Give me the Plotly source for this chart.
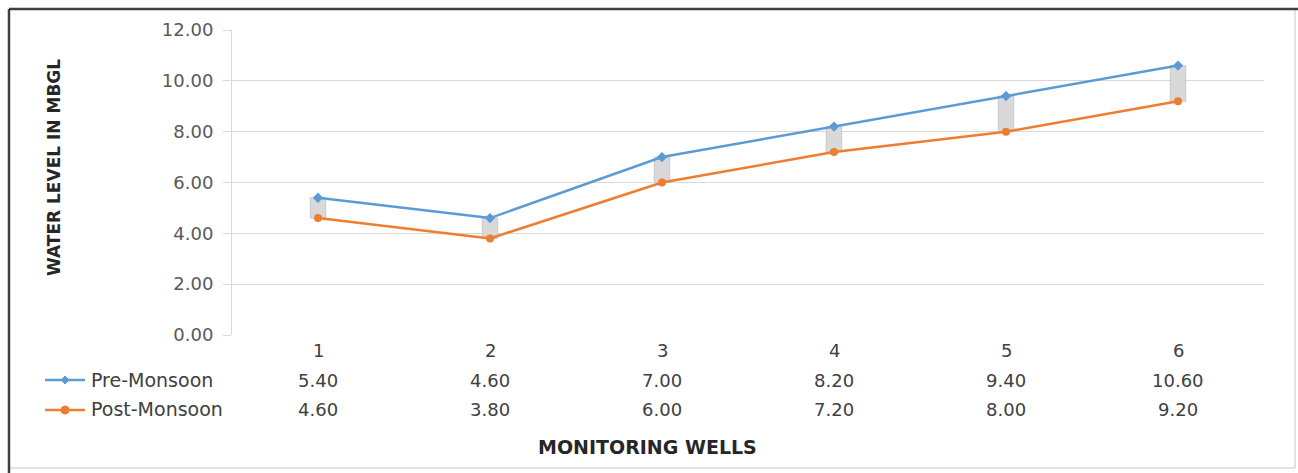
import plotly.graph_objects as go

# Monitoring-well water levels (metres below ground level)
wells = [1, 2, 3, 4, 5, 6]
pre_monsoon = [5.40, 4.60, 7.00, 8.20, 9.40, 10.60]
post_monsoon = [4.60, 3.80, 6.00, 7.20, 8.00, 9.20]
y_ticks = [0, 2, 4, 6, 8, 10, 12]

W, H = 1298, 473
BLUE = "#5b9bd5"
ORANGE = "#ed7d31"
TXT = "#404040"
FONT = "DejaVu Sans"

# plot-area pixel box
px0, px1 = 232, 1264
py_top, py_bot = 30, 335


def fy(y):
    """pixel row -> paper fraction"""
    return 1 - y / H


def fx(x):
    return x / W


fig = go.Figure()

# up-down bars between the two series
fig.add_trace(go.Bar(
    x=wells, base=post_monsoon,
    y=[a - b for a, b in zip(pre_monsoon, post_monsoon)],
    width=0.09, marker=dict(color="#d9d9d9", line=dict(color="#c8c8c8", width=1)),
    showlegend=False, hoverinfo="skip",
))
fig.add_trace(go.Scatter(
    x=wells, y=pre_monsoon, mode="lines+markers", name="Pre-Monsoon",
    line=dict(color=BLUE, width=2.5),
    marker=dict(symbol="diamond", size=8, color=BLUE), showlegend=False,
))
fig.add_trace(go.Scatter(
    x=wells, y=post_monsoon, mode="lines+markers", name="Post-Monsoon",
    line=dict(color=ORANGE, width=2.5),
    marker=dict(symbol="circle", size=8, color=ORANGE), showlegend=False,
))

annotations = []
nfont = dict(size=18, color=TXT, family=FONT)
lfont = dict(size=19, color=TXT, family=FONT)
# data table rows
for i, w in enumerate(wells):
    for yrow, txt in [(350, str(w)), (380, f"{pre_monsoon[i]:.2f}"), (409, f"{post_monsoon[i]:.2f}")]:
        annotations.append(dict(x=w, y=fy(yrow), xref="x", yref="paper", text=txt,
                                xanchor="center", yanchor="middle", showarrow=False, font=nfont))
for yk, label in [(380, "Pre-Monsoon"), (409, "Post-Monsoon")]:
    annotations.append(dict(x=fx(89), y=fy(yk), xref="paper", yref="paper", text=label,
                            xanchor="left", yanchor="middle", showarrow=False, font=lfont))
# axis titles
annotations.append(dict(x=fx(647), y=fy(447), xref="paper", yref="paper",
                        text="<b>MONITORING WELLS</b>", xanchor="center", yanchor="middle",
                        showarrow=False, font=dict(size=19, color="#262626", family=FONT)))
annotations.append(dict(x=fx(54), y=fy(168), xref="paper", yref="paper",
                        text="<b>WATER LEVEL IN MBGL</b>", textangle=-90, xanchor="center",
                        yanchor="middle", showarrow=False,
                        font=dict(size=17, color="#262626", family=FONT)))

shapes = [
    dict(type="rect", xref="paper", yref="paper", x0=fx(9), x1=fx(1295), y0=fy(468), y1=fy(9),
         line=dict(color="#c8c8c8", width=1)),
    dict(type="line", xref="paper", yref="paper", x0=fx(9), x1=1, y0=fy(9), y1=fy(9),
         line=dict(color="#404040", width=2.5)),
    dict(type="line", xref="paper", yref="paper", x0=fx(9), x1=fx(9), y0=0, y1=fy(9),
         line=dict(color="#404040", width=2.5)),
]
# legend keys of the data table
for yk, col, kind in [(380, BLUE, "diamond"), (410, ORANGE, "circle")]:
    shapes.append(dict(type="line", xref="paper", yref="paper", x0=fx(45), x1=fx(85),
                       y0=fy(yk), y1=fy(yk), line=dict(color=col, width=2.5)))
    if kind == "circle":
        shapes.append(dict(type="circle", xref="paper", yref="paper", x0=fx(61), x1=fx(69),
                           y0=fy(yk + 4), y1=fy(yk - 4), fillcolor=col, line=dict(color=col, width=1)))
    else:
        shapes.append(dict(type="path", xref="paper", yref="paper",
                           path=f"M {fx(65)} {fy(yk - 4)} L {fx(69)} {fy(yk)} L {fx(65)} {fy(yk + 4)} "
                                f"L {fx(61)} {fy(yk)} Z",
                           fillcolor=col, line=dict(color=col, width=1)))

fig.update_layout(
    width=W, height=H, margin=dict(l=0, r=0, t=0, b=0, autoexpand=False),
    paper_bgcolor="white", plot_bgcolor="white",
    xaxis=dict(domain=[fx(px0), fx(px1)], range=[0.5, 6.5], showticklabels=False,
               showgrid=False, zeroline=False, showline=False, fixedrange=True),
    yaxis=dict(domain=[fy(py_bot), fy(py_top)], range=[0, 12], tickvals=y_ticks,
               ticktext=[f"{v:.2f}" for v in y_ticks], showgrid=True, gridcolor="#d9d9d9",
               gridwidth=1, zeroline=False, showline=True, linecolor="#d9d9d9", linewidth=1,
               ticks="outside", ticklen=8, tickcolor="#d9d9d9", ticklabelstandoff=6,
               tickfont=dict(size=18, color="#595959", family=FONT), fixedrange=True),
    annotations=annotations, shapes=shapes, barmode="overlay",
)

fig.write_html("out.html")
